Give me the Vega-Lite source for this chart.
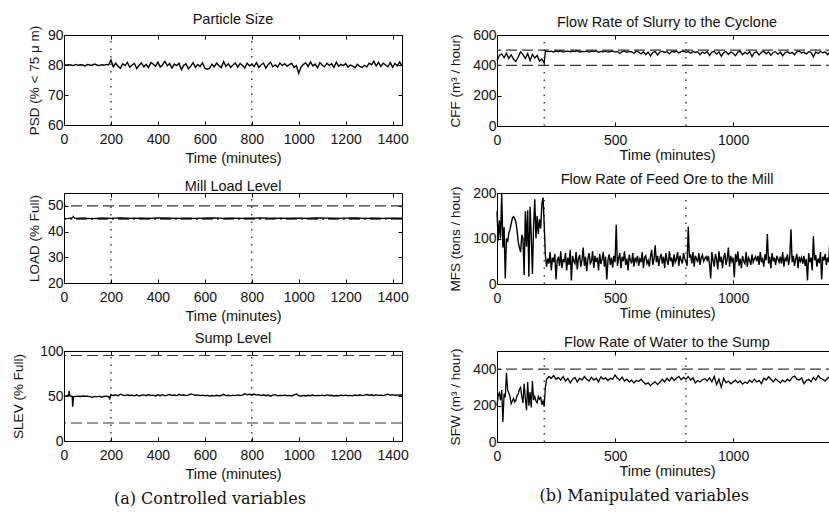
{
"$schema": "https://vega.github.io/schema/vega-lite/v6.json",
"background": "white",
"padding": {"left": 11, "top": 11, "right": 0, "bottom": 0},
"config": {
 "font": "Liberation Sans",
 "view": {"stroke": "black", "strokeWidth": 1},
 "axis": {"domain": false, "grid": false, "ticks": true, "tickSize": -4, "tickColor": "black", "tickWidth": 1, "labelFont": "Liberation Sans", "labelFontSize": 14, "labelColor": "#111", "labelPadding": 11, "labelFlush": false, "labelOverlap": false, "titleFont": "Liberation Sans", "titleFontSize": 14.5, "titleFontWeight": "normal", "titleColor": "#111"},
 "axisY": {"labelPadding": 5, "titleFontSize": 13.5, "titlePadding": 6},
 "title": {"font": "Liberation Sans", "fontSize": 14.5, "fontWeight": "normal", "color": "#111", "offset": -2}
},
"datasets": {
 "psd": [
{"t":0,"v":80.2},{"t":10,"v":79.9},{"t":20,"v":80.1},{"t":30,"v":80.0},{"t":40,"v":79.8},{"t":50,"v":80.2},{"t":60,"v":79.9},{"t":70,"v":80.1},{"t":80,"v":80.0},{"t":90,"v":79.7},
{"t":100,"v":80.2},{"t":110,"v":80.0},{"t":120,"v":79.9},{"t":130,"v":80.3},{"t":140,"v":80.0},{"t":150,"v":79.8},{"t":160,"v":80.1},{"t":170,"v":79.9},{"t":180,"v":80.2},{"t":190,"v":80.0},
{"t":200,"v":81.7},{"t":210,"v":79.4},{"t":220,"v":80.6},{"t":230,"v":79.6},{"t":240,"v":78.9},{"t":250,"v":80.4},{"t":260,"v":79.8},{"t":270,"v":80.9},{"t":280,"v":79.2},{"t":290,"v":80.0},
{"t":300,"v":80.5},{"t":310,"v":78.8},{"t":320,"v":79.9},{"t":330,"v":80.7},{"t":340,"v":79.4},{"t":350,"v":80.2},{"t":360,"v":79.1},{"t":370,"v":80.8},{"t":380,"v":80.3},{"t":390,"v":79.6},
{"t":400,"v":80.9},{"t":410,"v":79.3},{"t":420,"v":80.1},{"t":430,"v":81.2},{"t":440,"v":79.7},{"t":450,"v":80.5},{"t":460,"v":79.0},{"t":470,"v":80.3},{"t":480,"v":79.8},{"t":490,"v":80.6},
{"t":500,"v":78.5},{"t":510,"v":79.9},{"t":520,"v":80.4},{"t":530,"v":78.7},{"t":540,"v":79.6},{"t":550,"v":80.8},{"t":560,"v":79.2},{"t":570,"v":80.2},{"t":580,"v":79.5},{"t":590,"v":80.7},
{"t":600,"v":79.0},{"t":610,"v":78.6},{"t":620,"v":78.9},{"t":630,"v":80.3},{"t":640,"v":79.4},{"t":650,"v":80.6},{"t":660,"v":79.8},{"t":670,"v":79.1},{"t":680,"v":81.2},{"t":690,"v":79.6},
{"t":700,"v":80.4},{"t":710,"v":79.2},{"t":720,"v":80.0},{"t":730,"v":80.7},{"t":740,"v":79.3},{"t":750,"v":80.5},{"t":760,"v":79.9},{"t":770,"v":79.0},{"t":780,"v":80.6},{"t":790,"v":79.7},
{"t":800,"v":80.3},{"t":810,"v":79.5},{"t":820,"v":80.8},{"t":830,"v":79.2},{"t":840,"v":80.1},{"t":850,"v":80.6},{"t":860,"v":79.0},{"t":870,"v":80.2},{"t":880,"v":80.9},{"t":890,"v":79.4},
{"t":900,"v":80.0},{"t":910,"v":79.3},{"t":920,"v":80.7},{"t":930,"v":79.8},{"t":940,"v":80.4},{"t":950,"v":79.6},{"t":960,"v":80.1},{"t":970,"v":80.5},{"t":980,"v":79.2},{"t":990,"v":79.8},
{"t":1000,"v":77.2},{"t":1010,"v":79.3},{"t":1020,"v":80.2},{"t":1030,"v":80.7},{"t":1040,"v":79.5},{"t":1050,"v":81.0},{"t":1060,"v":79.7},{"t":1070,"v":80.3},{"t":1080,"v":79.1},{"t":1090,"v":80.8},
{"t":1100,"v":80.0},{"t":1110,"v":79.4},{"t":1120,"v":80.6},{"t":1130,"v":79.9},{"t":1140,"v":80.4},{"t":1150,"v":79.2},{"t":1160,"v":80.9},{"t":1170,"v":79.6},{"t":1180,"v":80.2},{"t":1190,"v":79.8},
{"t":1200,"v":80.5},{"t":1210,"v":79.3},{"t":1220,"v":80.0},{"t":1230,"v":79.6},{"t":1240,"v":79.1},{"t":1250,"v":80.2},{"t":1260,"v":79.5},{"t":1270,"v":79.2},{"t":1280,"v":79.9},{"t":1290,"v":79.4},
{"t":1300,"v":80.6},{"t":1310,"v":80.1},{"t":1320,"v":81.2},{"t":1330,"v":79.7},{"t":1340,"v":80.9},{"t":1350,"v":79.5},{"t":1360,"v":80.6},{"t":1370,"v":80.0},{"t":1380,"v":79.4},{"t":1390,"v":80.8},
{"t":1400,"v":79.2},{"t":1410,"v":80.5},{"t":1420,"v":79.7},{"t":1430,"v":81.0},{"t":1440,"v":79.6}
 ],
 "load": [
{"t":0,"v":44.9},{"t":20,"v":45.1},{"t":35,"v":45.3},{"t":40,"v":45.9},{"t":45,"v":45.2},{"t":60,"v":45.1},{"t":80,"v":45.2},{"t":120,"v":45.0},{"t":160,"v":45.2},{"t":200,"v":45.1},
{"t":240,"v":45.3},{"t":280,"v":45.1},{"t":320,"v":45.2},{"t":360,"v":45.1},{"t":400,"v":45.3},{"t":440,"v":45.2},{"t":480,"v":45.1},{"t":520,"v":45.2},{"t":560,"v":45.1},{"t":600,"v":45.2},
{"t":640,"v":45.3},{"t":680,"v":45.1},{"t":720,"v":45.2},{"t":760,"v":45.1},{"t":800,"v":45.2},{"t":840,"v":45.3},{"t":880,"v":45.1},{"t":920,"v":45.2},{"t":960,"v":45.1},{"t":1000,"v":45.2},
{"t":1040,"v":45.1},{"t":1080,"v":45.3},{"t":1120,"v":45.2},{"t":1160,"v":45.1},{"t":1200,"v":45.2},{"t":1240,"v":45.3},{"t":1280,"v":45.1},{"t":1320,"v":45.2},{"t":1360,"v":45.1},{"t":1400,"v":45.2},{"t":1440,"v":45.1}
 ],
 "slev": [
{"t":0,"v":49.5},{"t":10,"v":50.2},{"t":20,"v":51.0},{"t":22,"v":55.5},{"t":25,"v":50.0},{"t":35,"v":49.5},{"t":37,"v":38.0},{"t":40,"v":49.0},{"t":50,"v":49.6},{"t":60,"v":49.8},
{"t":70,"v":49.5},{"t":80,"v":50.0},{"t":90,"v":49.7},{"t":100,"v":49.9},{"t":110,"v":49.3},{"t":120,"v":48.5},{"t":130,"v":49.6},{"t":140,"v":49.0},{"t":150,"v":49.8},{"t":160,"v":48.7},
{"t":170,"v":49.5},{"t":180,"v":49.9},{"t":190,"v":49.2},{"t":195,"v":47.0},{"t":200,"v":51.5},{"t":210,"v":50.5},{"t":220,"v":51.2},{"t":230,"v":50.3},{"t":240,"v":52.0},{"t":250,"v":51.0},
{"t":260,"v":50.4},{"t":270,"v":51.5},{"t":280,"v":50.6},{"t":290,"v":51.0},{"t":300,"v":50.2},{"t":310,"v":51.4},{"t":320,"v":50.0},{"t":330,"v":50.8},{"t":340,"v":51.2},{"t":350,"v":50.3},
{"t":360,"v":51.6},{"t":370,"v":50.5},{"t":380,"v":51.0},{"t":390,"v":50.1},{"t":400,"v":51.3},{"t":410,"v":50.4},{"t":420,"v":51.5},{"t":430,"v":50.2},{"t":440,"v":50.9},{"t":450,"v":51.7},
{"t":460,"v":50.6},{"t":470,"v":51.1},{"t":480,"v":50.4},{"t":490,"v":51.8},{"t":500,"v":50.7},{"t":510,"v":51.3},{"t":520,"v":50.5},{"t":530,"v":51.0},{"t":540,"v":52.3},{"t":550,"v":51.6},
{"t":560,"v":50.8},{"t":570,"v":51.2},{"t":580,"v":50.4},{"t":590,"v":50.9},{"t":600,"v":50.3},{"t":610,"v":50.7},{"t":620,"v":50.1},{"t":630,"v":50.6},{"t":640,"v":50.2},{"t":650,"v":50.8},
{"t":660,"v":50.3},{"t":670,"v":50.5},{"t":680,"v":51.9},{"t":690,"v":50.4},{"t":700,"v":50.8},{"t":710,"v":50.2},{"t":720,"v":50.9},{"t":730,"v":50.4},{"t":740,"v":51.2},{"t":750,"v":50.6},
{"t":760,"v":51.0},{"t":770,"v":52.4},{"t":780,"v":51.3},{"t":790,"v":52.0},{"t":800,"v":51.1},{"t":810,"v":52.2},{"t":820,"v":51.0},{"t":830,"v":51.6},{"t":840,"v":50.5},{"t":850,"v":51.4},
{"t":860,"v":50.3},{"t":870,"v":51.1},{"t":880,"v":49.8},{"t":890,"v":50.9},{"t":900,"v":51.5},{"t":910,"v":50.2},{"t":920,"v":50.8},{"t":930,"v":50.4},{"t":940,"v":51.0},{"t":950,"v":50.3},
{"t":960,"v":50.7},{"t":970,"v":50.1},{"t":980,"v":51.3},{"t":990,"v":52.1},{"t":1000,"v":50.4},{"t":1010,"v":49.7},{"t":1020,"v":50.6},{"t":1030,"v":50.1},{"t":1040,"v":50.8},{"t":1050,"v":50.3},
{"t":1060,"v":51.0},{"t":1070,"v":50.2},{"t":1080,"v":50.7},{"t":1090,"v":50.4},{"t":1100,"v":50.9},{"t":1110,"v":50.2},{"t":1120,"v":51.2},{"t":1130,"v":50.5},{"t":1140,"v":50.8},{"t":1150,"v":50.1},
{"t":1160,"v":50.6},{"t":1170,"v":50.3},{"t":1180,"v":50.9},{"t":1190,"v":50.4},{"t":1200,"v":51.0},{"t":1210,"v":50.3},{"t":1220,"v":50.7},{"t":1230,"v":50.2},{"t":1240,"v":51.1},{"t":1250,"v":50.5},
{"t":1260,"v":51.3},{"t":1270,"v":50.4},{"t":1280,"v":50.9},{"t":1290,"v":51.6},{"t":1300,"v":50.8},{"t":1310,"v":51.4},{"t":1320,"v":50.6},{"t":1330,"v":51.2},{"t":1340,"v":50.7},{"t":1350,"v":51.0},
{"t":1360,"v":50.4},{"t":1370,"v":51.3},{"t":1380,"v":52.0},{"t":1390,"v":50.9},{"t":1400,"v":51.5},{"t":1410,"v":50.6},{"t":1420,"v":51.2},{"t":1430,"v":50.8},{"t":1440,"v":51.4}
 ],
 "cff": [
{"t":0,"v":430},{"t":10,"v":465},{"t":20,"v":475},{"t":30,"v":450},{"t":40,"v":480},{"t":50,"v":445},{"t":60,"v":470},{"t":70,"v":440},{"t":80,"v":425},{"t":90,"v":455},
{"t":100,"v":490},{"t":110,"v":470},{"t":120,"v":445},{"t":130,"v":478},{"t":140,"v":432},{"t":150,"v":472},{"t":160,"v":448},{"t":170,"v":465},{"t":180,"v":428},{"t":190,"v":442},
{"t":200,"v":415},{"t":205,"v":495},{"t":210,"v":492},{"t":220,"v":490},{"t":230,"v":494},{"t":240,"v":488},{"t":250,"v":493},{"t":260,"v":491},{"t":270,"v":495},{"t":280,"v":487},
{"t":290,"v":492},{"t":300,"v":494},{"t":310,"v":489},{"t":320,"v":493},{"t":330,"v":490},{"t":340,"v":495},{"t":350,"v":488},{"t":360,"v":492},{"t":370,"v":491},{"t":380,"v":494},
{"t":390,"v":487},{"t":400,"v":493},{"t":410,"v":490},{"t":420,"v":495},{"t":430,"v":486},{"t":440,"v":492},{"t":450,"v":489},{"t":460,"v":494},{"t":470,"v":488},{"t":480,"v":491},
{"t":490,"v":493},{"t":500,"v":487},{"t":510,"v":492},{"t":520,"v":478},{"t":530,"v":490},{"t":540,"v":494},{"t":550,"v":486},{"t":560,"v":492},{"t":570,"v":489},{"t":580,"v":480},
{"t":590,"v":493},{"t":600,"v":488},{"t":610,"v":475},{"t":620,"v":490},{"t":630,"v":470},{"t":640,"v":488},{"t":650,"v":462},{"t":660,"v":485},{"t":670,"v":491},{"t":680,"v":468},
{"t":690,"v":488},{"t":700,"v":493},{"t":710,"v":485},{"t":720,"v":490},{"t":730,"v":476},{"t":740,"v":492},{"t":750,"v":488},{"t":760,"v":494},{"t":770,"v":482},{"t":780,"v":490},
{"t":790,"v":493},{"t":800,"v":486},{"t":810,"v":491},{"t":820,"v":480},{"t":830,"v":492},{"t":840,"v":485},{"t":850,"v":490},{"t":860,"v":470},{"t":870,"v":488},{"t":880,"v":478},
{"t":890,"v":491},{"t":900,"v":465},{"t":910,"v":487},{"t":920,"v":492},{"t":930,"v":474},{"t":940,"v":489},{"t":950,"v":460},{"t":960,"v":484},{"t":970,"v":491},{"t":980,"v":472},
{"t":990,"v":488},{"t":1000,"v":480},{"t":1010,"v":463},{"t":1020,"v":487},{"t":1030,"v":492},{"t":1040,"v":470},{"t":1050,"v":486},{"t":1060,"v":475},{"t":1070,"v":490},{"t":1080,"v":458},
{"t":1090,"v":484},{"t":1100,"v":489},{"t":1110,"v":468},{"t":1120,"v":486},{"t":1130,"v":492},{"t":1140,"v":476},{"t":1150,"v":488},{"t":1160,"v":467},{"t":1170,"v":485},{"t":1180,"v":490},
{"t":1190,"v":472},{"t":1200,"v":487},{"t":1210,"v":462},{"t":1220,"v":483},{"t":1230,"v":490},{"t":1240,"v":478},{"t":1250,"v":486},{"t":1260,"v":470},{"t":1270,"v":489},{"t":1280,"v":493},
{"t":1290,"v":481},{"t":1300,"v":488},{"t":1310,"v":474},{"t":1320,"v":490},{"t":1330,"v":486},{"t":1340,"v":455},{"t":1350,"v":488},{"t":1360,"v":478},{"t":1370,"v":491},{"t":1380,"v":483},
{"t":1390,"v":489},{"t":1400,"v":470},{"t":1410,"v":490},{"t":1420,"v":485},{"t":1430,"v":492},{"t":1440,"v":488}
 ],
 "mfs": [
{"t":0,"v":160},{"t":5,"v":95},{"t":10,"v":140},{"t":15,"v":100},{"t":20,"v":200},{"t":25,"v":80},{"t":30,"v":125},{"t":35,"v":12},{"t":40,"v":100},{"t":45,"v":92},
{"t":50,"v":112},{"t":55,"v":120},{"t":60,"v":132},{"t":65,"v":145},{"t":70,"v":148},{"t":75,"v":144},{"t":80,"v":136},{"t":85,"v":118},{"t":90,"v":92},{"t":95,"v":80},
{"t":100,"v":70},{"t":105,"v":108},{"t":110,"v":100},{"t":115,"v":20},{"t":120,"v":160},{"t":125,"v":82},{"t":130,"v":162},{"t":135,"v":16},{"t":140,"v":170},{"t":145,"v":108},
{"t":150,"v":22},{"t":155,"v":128},{"t":160,"v":186},{"t":165,"v":100},{"t":170,"v":150},{"t":175,"v":110},{"t":180,"v":142},{"t":185,"v":122},{"t":190,"v":176},{"t":195,"v":190},
{"t":200,"v":130},{"t":205,"v":62},{"t":210,"v":38},{"t":215,"v":56},{"t":220,"v":45},{"t":225,"v":70},{"t":230,"v":30},{"t":235,"v":58},{"t":240,"v":48},{"t":245,"v":66},
{"t":250,"v":10},{"t":255,"v":52},{"t":260,"v":60},{"t":265,"v":40},{"t":270,"v":72},{"t":275,"v":35},{"t":280,"v":55},{"t":285,"v":48},{"t":290,"v":68},{"t":295,"v":30},
{"t":300,"v":58},{"t":305,"v":42},{"t":310,"v":75},{"t":315,"v":8},{"t":320,"v":62},{"t":325,"v":50},{"t":330,"v":45},{"t":335,"v":70},{"t":340,"v":32},{"t":345,"v":56},
{"t":350,"v":64},{"t":355,"v":38},{"t":360,"v":52},{"t":365,"v":80},{"t":370,"v":40},{"t":375,"v":60},{"t":380,"v":28},{"t":385,"v":55},{"t":390,"v":68},{"t":395,"v":45},
{"t":400,"v":50},{"t":405,"v":72},{"t":410,"v":35},{"t":415,"v":62},{"t":420,"v":48},{"t":425,"v":58},{"t":430,"v":30},{"t":435,"v":66},{"t":440,"v":44},{"t":445,"v":55},
{"t":450,"v":70},{"t":455,"v":38},{"t":460,"v":60},{"t":465,"v":10},{"t":470,"v":52},{"t":475,"v":65},{"t":480,"v":42},{"t":485,"v":58},{"t":490,"v":36},{"t":495,"v":62},
{"t":500,"v":48},{"t":505,"v":130},{"t":510,"v":40},{"t":515,"v":55},{"t":520,"v":68},{"t":525,"v":35},{"t":530,"v":60},{"t":535,"v":50},{"t":540,"v":72},{"t":545,"v":42},
{"t":550,"v":56},{"t":555,"v":30},{"t":560,"v":64},{"t":565,"v":52},{"t":570,"v":45},{"t":575,"v":68},{"t":580,"v":38},{"t":585,"v":58},{"t":590,"v":50},{"t":595,"v":62},
{"t":600,"v":40},{"t":605,"v":55},{"t":610,"v":48},{"t":615,"v":70},{"t":620,"v":35},{"t":625,"v":58},{"t":630,"v":62},{"t":635,"v":45},{"t":640,"v":52},{"t":645,"v":38},
{"t":650,"v":60},{"t":655,"v":75},{"t":660,"v":42},{"t":665,"v":55},{"t":670,"v":85},{"t":675,"v":48},{"t":680,"v":62},{"t":685,"v":40},{"t":690,"v":58},{"t":695,"v":66},
{"t":700,"v":45},{"t":705,"v":60},{"t":710,"v":35},{"t":715,"v":68},{"t":720,"v":52},{"t":725,"v":42},{"t":730,"v":72},{"t":735,"v":50},{"t":740,"v":58},{"t":745,"v":38},
{"t":750,"v":65},{"t":755,"v":48},{"t":760,"v":55},{"t":765,"v":70},{"t":770,"v":40},{"t":775,"v":62},{"t":780,"v":52},{"t":785,"v":45},{"t":790,"v":68},{"t":795,"v":55},
{"t":800,"v":50},{"t":805,"v":40},{"t":810,"v":126},{"t":815,"v":58},{"t":820,"v":65},{"t":825,"v":45},{"t":830,"v":70},{"t":835,"v":38},{"t":840,"v":62},{"t":845,"v":55},
{"t":850,"v":48},{"t":855,"v":68},{"t":860,"v":42},{"t":865,"v":58},{"t":870,"v":64},{"t":875,"v":50},{"t":880,"v":56},{"t":885,"v":60},{"t":890,"v":52},{"t":895,"v":62},
{"t":900,"v":45},{"t":905,"v":12},{"t":910,"v":70},{"t":915,"v":52},{"t":920,"v":38},{"t":925,"v":66},{"t":930,"v":55},{"t":935,"v":32},{"t":940,"v":72},{"t":945,"v":48},
{"t":950,"v":60},{"t":955,"v":35},{"t":960,"v":58},{"t":965,"v":68},{"t":970,"v":42},{"t":975,"v":55},{"t":980,"v":80},{"t":985,"v":38},{"t":990,"v":62},{"t":995,"v":50},
{"t":1000,"v":58},{"t":1005,"v":15},{"t":1010,"v":66},{"t":1015,"v":48},{"t":1020,"v":72},{"t":1025,"v":40},{"t":1030,"v":56},{"t":1035,"v":35},{"t":1040,"v":62},{"t":1045,"v":50},
{"t":1050,"v":45},{"t":1055,"v":70},{"t":1060,"v":38},{"t":1065,"v":58},{"t":1070,"v":52},{"t":1075,"v":42},{"t":1080,"v":65},{"t":1085,"v":48},{"t":1090,"v":55},{"t":1095,"v":60},
{"t":1100,"v":50},{"t":1105,"v":62},{"t":1110,"v":42},{"t":1115,"v":70},{"t":1120,"v":48},{"t":1125,"v":55},{"t":1130,"v":38},{"t":1135,"v":65},{"t":1140,"v":52},{"t":1145,"v":110},
{"t":1150,"v":45},{"t":1155,"v":60},{"t":1160,"v":35},{"t":1165,"v":68},{"t":1170,"v":50},{"t":1175,"v":58},{"t":1180,"v":42},{"t":1185,"v":62},{"t":1190,"v":55},{"t":1195,"v":48},
{"t":1200,"v":60},{"t":1205,"v":45},{"t":1210,"v":70},{"t":1215,"v":38},{"t":1220,"v":56},{"t":1225,"v":52},{"t":1230,"v":65},{"t":1235,"v":42},{"t":1240,"v":58},{"t":1245,"v":120},
{"t":1250,"v":48},{"t":1255,"v":62},{"t":1260,"v":40},{"t":1265,"v":55},{"t":1270,"v":66},{"t":1275,"v":35},{"t":1280,"v":60},{"t":1285,"v":50},{"t":1290,"v":58},{"t":1295,"v":45},
{"t":1300,"v":62},{"t":1305,"v":40},{"t":1310,"v":55},{"t":1315,"v":8},{"t":1320,"v":68},{"t":1325,"v":48},{"t":1330,"v":58},{"t":1335,"v":30},{"t":1340,"v":105},{"t":1345,"v":52},
{"t":1350,"v":64},{"t":1355,"v":38},{"t":1360,"v":56},{"t":1365,"v":46},{"t":1370,"v":70},{"t":1375,"v":10},{"t":1380,"v":60},{"t":1385,"v":52},{"t":1390,"v":66},{"t":1395,"v":42},
{"t":1400,"v":58},{"t":1405,"v":48},{"t":1410,"v":100},{"t":1415,"v":40},{"t":1420,"v":62},{"t":1425,"v":55},{"t":1430,"v":70},{"t":1435,"v":38},{"t":1440,"v":60}
 ],
 "sfw": [
{"t":0,"v":200},{"t":5,"v":255},{"t":10,"v":270},{"t":15,"v":230},{"t":20,"v":285},{"t":25,"v":110},{"t":30,"v":265},{"t":35,"v":245},{"t":40,"v":380},{"t":45,"v":285},
{"t":50,"v":270},{"t":55,"v":250},{"t":60,"v":210},{"t":65,"v":225},{"t":70,"v":240},{"t":75,"v":220},{"t":80,"v":230},{"t":85,"v":255},{"t":90,"v":265},{"t":95,"v":290},
{"t":100,"v":300},{"t":105,"v":250},{"t":110,"v":215},{"t":115,"v":320},{"t":120,"v":240},{"t":125,"v":175},{"t":130,"v":330},{"t":135,"v":200},{"t":140,"v":275},{"t":145,"v":190},
{"t":150,"v":335},{"t":155,"v":230},{"t":160,"v":250},{"t":165,"v":225},{"t":170,"v":215},{"t":175,"v":250},{"t":180,"v":235},{"t":185,"v":245},{"t":190,"v":205},{"t":195,"v":225},
{"t":200,"v":195},{"t":205,"v":300},{"t":210,"v":345},{"t":220,"v":360},{"t":230,"v":350},{"t":240,"v":365},{"t":250,"v":345},{"t":260,"v":355},{"t":270,"v":340},{"t":280,"v":360},
{"t":290,"v":335},{"t":300,"v":350},{"t":310,"v":325},{"t":320,"v":345},{"t":330,"v":355},{"t":340,"v":330},{"t":350,"v":350},{"t":360,"v":340},{"t":370,"v":360},{"t":380,"v":345},
{"t":390,"v":335},{"t":400,"v":355},{"t":410,"v":340},{"t":420,"v":350},{"t":430,"v":330},{"t":440,"v":358},{"t":450,"v":345},{"t":460,"v":352},{"t":470,"v":338},{"t":480,"v":350},
{"t":490,"v":345},{"t":500,"v":368},{"t":510,"v":350},{"t":520,"v":340},{"t":530,"v":356},{"t":540,"v":335},{"t":550,"v":345},{"t":560,"v":330},{"t":570,"v":340},{"t":580,"v":325},
{"t":590,"v":338},{"t":600,"v":332},{"t":610,"v":345},{"t":620,"v":330},{"t":630,"v":318},{"t":640,"v":325},{"t":650,"v":310},{"t":660,"v":322},{"t":670,"v":330},{"t":680,"v":315},
{"t":690,"v":328},{"t":700,"v":345},{"t":710,"v":330},{"t":720,"v":350},{"t":730,"v":335},{"t":740,"v":355},{"t":750,"v":338},{"t":760,"v":350},{"t":770,"v":360},{"t":780,"v":342},
{"t":790,"v":355},{"t":800,"v":345},{"t":810,"v":360},{"t":820,"v":340},{"t":830,"v":352},{"t":840,"v":325},{"t":850,"v":338},{"t":860,"v":330},{"t":870,"v":342},{"t":880,"v":348},
{"t":890,"v":335},{"t":900,"v":352},{"t":910,"v":330},{"t":920,"v":360},{"t":930,"v":315},{"t":940,"v":345},{"t":950,"v":300},{"t":960,"v":350},{"t":970,"v":325},{"t":980,"v":335},
{"t":990,"v":320},{"t":1000,"v":330},{"t":1010,"v":340},{"t":1020,"v":325},{"t":1030,"v":335},{"t":1040,"v":318},{"t":1050,"v":330},{"t":1060,"v":322},{"t":1070,"v":340},{"t":1080,"v":328},
{"t":1090,"v":345},{"t":1100,"v":330},{"t":1110,"v":338},{"t":1120,"v":320},{"t":1130,"v":350},{"t":1140,"v":340},{"t":1150,"v":358},{"t":1160,"v":345},{"t":1170,"v":330},{"t":1180,"v":348},
{"t":1190,"v":335},{"t":1200,"v":325},{"t":1210,"v":340},{"t":1220,"v":330},{"t":1230,"v":345},{"t":1240,"v":335},{"t":1250,"v":355},{"t":1260,"v":362},{"t":1270,"v":345},{"t":1280,"v":340},
{"t":1290,"v":352},{"t":1300,"v":320},{"t":1310,"v":338},{"t":1320,"v":345},{"t":1330,"v":330},{"t":1340,"v":355},{"t":1350,"v":340},{"t":1360,"v":365},{"t":1370,"v":350},{"t":1380,"v":345},
{"t":1390,"v":335},{"t":1400,"v":350},{"t":1410,"v":360},{"t":1420,"v":345},{"t":1430,"v":370},{"t":1440,"v":355}
 ]
},
"hconcat": [
 {
  "spacing": 68, "bounds": "flush",
  "title": {"text": "(a) Controlled variables", "orient": "bottom", "anchor": "middle", "frame": "bounds", "font": "DejaVu Serif", "fontSize": 16, "fontWeight": "normal", "color": "#111", "offset": 10},
  "vconcat": [
   {"width": 338, "height": 90, "title": {"text": "Particle Size"},
    "layer": [
     {"data": {"values": [{"t": 200}, {"t": 800}]}, "mark": {"type": "rule", "color": "#222", "strokeDash": [1.5, 6], "strokeWidth": 1.3},
      "encoding": {"x": {"field": "t", "type": "quantitative", "axis": {"orient": "top", "labels": false, "title": null, "values": [0,200,400,600,800,1000,1200,1400]}},
                   "y": {"datum": 60, "type": "quantitative", "axis": {"orient": "right", "labels": false, "title": null, "values": [60,70,80,90]}}, "y2": {"datum": 90}}},
     {"data": {"name": "psd"}, "mark": {"type": "line", "color": "black", "strokeWidth": 1.4},
      "encoding": {"x": {"field": "t", "type": "quantitative", "scale": {"domain": [0, 1440], "nice": false, "zero": false}, "axis": {"orient": "bottom", "format": "d", "values": [0,200,400,600,800,1000,1200,1400], "title": "Time (minutes)", "titlePadding": 5}},
                   "y": {"field": "v", "type": "quantitative", "scale": {"domain": [60, 90], "nice": false, "zero": false}, "axis": {"orient": "left", "values": [60,70,80,90], "title": "PSD (% < 75 μ m)"}}}}
    ],
    "resolve": {"axis": {"x": "independent", "y": "independent"}}},
   {"width": 338, "height": 90, "title": {"text": "Mill Load Level"},
    "layer": [
     {"data": {"values": [{"v": 50}]}, "mark": {"type": "rule", "color": "#333", "strokeDash": [11, 5], "strokeWidth": 1.2},
      "encoding": {"y": {"field": "v", "type": "quantitative", "axis": null}}},
     {"data": {"values": [{"v": 45}]}, "mark": {"type": "rule", "color": "#333", "strokeDash": [11, 4, 2, 4], "strokeWidth": 2},
      "encoding": {"y": {"field": "v", "type": "quantitative", "axis": null}}},
     {"data": {"values": [{"t": 200}, {"t": 800}]}, "mark": {"type": "rule", "color": "#222", "strokeDash": [1.5, 6], "strokeWidth": 1.3},
      "encoding": {"x": {"field": "t", "type": "quantitative", "axis": {"orient": "top", "labels": false, "title": null, "values": [0,200,400,600,800,1000,1200,1400]}},
                   "y": {"datum": 20, "type": "quantitative", "axis": {"orient": "right", "labels": false, "title": null, "values": [20,30,40,50]}}, "y2": {"datum": 55}}},
     {"data": {"name": "load"}, "mark": {"type": "line", "color": "black", "strokeWidth": 1.2},
      "encoding": {"x": {"field": "t", "type": "quantitative", "scale": {"domain": [0, 1440], "nice": false, "zero": false}, "axis": {"orient": "bottom", "format": "d", "values": [0,200,400,600,800,1000,1200,1400], "title": "Time (minutes)", "titlePadding": 5}},
                   "y": {"field": "v", "type": "quantitative", "scale": {"domain": [20, 55], "nice": false, "zero": false}, "axis": {"orient": "left", "values": [20,30,40,50], "title": "LOAD (% Full)"}}}}
    ],
    "resolve": {"axis": {"x": "independent", "y": "independent"}}},
   {"width": 338, "height": 90, "title": {"text": "Sump Level"},
    "layer": [
     {"data": {"values": [{"v": 95}, {"v": 20}]}, "mark": {"type": "rule", "color": "#333", "strokeDash": [11, 5], "strokeWidth": 1.2},
      "encoding": {"y": {"field": "v", "type": "quantitative", "axis": null}}},
     {"data": {"values": [{"t": 200}, {"t": 800}]}, "mark": {"type": "rule", "color": "#222", "strokeDash": [1.5, 6], "strokeWidth": 1.3},
      "encoding": {"x": {"field": "t", "type": "quantitative", "axis": {"orient": "top", "labels": false, "title": null, "values": [0,200,400,600,800,1000,1200,1400]}},
                   "y": {"datum": 0, "type": "quantitative", "axis": {"orient": "right", "labels": false, "title": null, "values": [0,50,100]}}, "y2": {"datum": 100}}},
     {"data": {"name": "slev"}, "mark": {"type": "line", "color": "black", "strokeWidth": 1.4},
      "encoding": {"x": {"field": "t", "type": "quantitative", "scale": {"domain": [0, 1440], "nice": false, "zero": false}, "axis": {"orient": "bottom", "format": "d", "values": [0,200,400,600,800,1000,1200,1400], "title": "Time (minutes)", "titlePadding": 5}},
                   "y": {"field": "v", "type": "quantitative", "scale": {"domain": [0, 100], "nice": false}, "axis": {"orient": "left", "values": [0,50,100], "title": "SLEV (% Full)", "titlePadding": 14}}}}
    ],
    "resolve": {"axis": {"x": "independent", "y": "independent"}}}
  ]
 },
 {
  "spacing": 67, "bounds": "flush",
  "title": {"text": "(b) Manipulated variables", "orient": "bottom", "anchor": "middle", "frame": "bounds", "font": "DejaVu Serif", "fontSize": 16, "fontWeight": "normal", "color": "#111", "offset": 10},
  "vconcat": [
   {"width": 340, "height": 91, "title": {"text": "Flow Rate of Slurry to the Cyclone"},
    "layer": [
     {"data": {"values": [{"v": 500}, {"v": 400}]}, "mark": {"type": "rule", "color": "#333", "strokeDash": [11, 5], "strokeWidth": 1.2},
      "encoding": {"y": {"field": "v", "type": "quantitative", "axis": null}}},
     {"data": {"values": [{"t": 200}, {"t": 800}]}, "mark": {"type": "rule", "color": "#222", "strokeDash": [1.5, 6], "strokeWidth": 1.3},
      "encoding": {"x": {"field": "t", "type": "quantitative", "axis": {"orient": "top", "labels": false, "title": null, "values": [0,500,1000]}},
                   "y": {"datum": 0, "type": "quantitative", "axis": {"orient": "right", "labels": false, "title": null, "values": [0,200,400,600]}}, "y2": {"datum": 600}}},
     {"data": {"name": "cff"}, "mark": {"type": "line", "color": "black", "strokeWidth": 1.3},
      "encoding": {"x": {"field": "t", "type": "quantitative", "scale": {"domain": [0, 1440], "nice": false, "zero": false}, "axis": {"orient": "bottom", "format": "d", "values": [0,500,1000], "title": "Time (minutes)", "titlePadding": 1}},
                   "y": {"field": "v", "type": "quantitative", "scale": {"domain": [0, 600], "nice": false}, "axis": {"orient": "left", "values": [0,200,400,600], "title": "CFF (m³ / hour)", "titlePadding": 10}}}}
    ],
    "resolve": {"axis": {"x": "independent", "y": "independent"}}},
   {"width": 340, "height": 91, "title": {"text": "Flow Rate of Feed Ore to the Mill"},
    "layer": [
     {"data": {"values": [{"t": 200}, {"t": 800}]}, "mark": {"type": "rule", "color": "#222", "strokeDash": [1.5, 6], "strokeWidth": 1.3},
      "encoding": {"x": {"field": "t", "type": "quantitative", "axis": {"orient": "top", "labels": false, "title": null, "values": [0,500,1000]}},
                   "y": {"datum": 0, "type": "quantitative", "axis": {"orient": "right", "labels": false, "title": null, "values": [0,100,200]}}, "y2": {"datum": 200}}},
     {"data": {"name": "mfs"}, "mark": {"type": "line", "color": "black", "strokeWidth": 1.4},
      "encoding": {"x": {"field": "t", "type": "quantitative", "scale": {"domain": [0, 1440], "nice": false, "zero": false}, "axis": {"orient": "bottom", "format": "d", "values": [0,500,1000], "title": "Time (minutes)", "titlePadding": 1}},
                   "y": {"field": "v", "type": "quantitative", "scale": {"domain": [0, 200], "nice": false}, "axis": {"orient": "left", "values": [0,100,200], "title": "MFS (tons / hour)", "titlePadding": 10}}}}
    ],
    "resolve": {"axis": {"x": "independent", "y": "independent"}}},
   {"width": 340, "height": 91, "title": {"text": "Flow Rate of Water to the Sump"},
    "layer": [
     {"data": {"values": [{"v": 400}]}, "mark": {"type": "rule", "color": "#333", "strokeDash": [11, 5], "strokeWidth": 1.2},
      "encoding": {"y": {"field": "v", "type": "quantitative", "axis": null}}},
     {"data": {"values": [{"t": 200}, {"t": 800}]}, "mark": {"type": "rule", "color": "#222", "strokeDash": [1.5, 6], "strokeWidth": 1.3},
      "encoding": {"x": {"field": "t", "type": "quantitative", "axis": {"orient": "top", "labels": false, "title": null, "values": [0,500,1000]}},
                   "y": {"datum": 0, "type": "quantitative", "axis": {"orient": "right", "labels": false, "title": null, "values": [0,200,400]}}, "y2": {"datum": 500}}},
     {"data": {"name": "sfw"}, "mark": {"type": "line", "color": "black", "strokeWidth": 1.3},
      "encoding": {"x": {"field": "t", "type": "quantitative", "scale": {"domain": [0, 1440], "nice": false, "zero": false}, "axis": {"orient": "bottom", "format": "d", "values": [0,500,1000], "title": "Time (minutes)", "titlePadding": 1}},
                   "y": {"field": "v", "type": "quantitative", "scale": {"domain": [0, 500], "nice": false}, "axis": {"orient": "left", "values": [0,200,400], "title": "SFW (m³ / hour)", "titlePadding": 10}}}}
    ],
    "resolve": {"axis": {"x": "independent", "y": "independent"}}}
  ]
 }
],
"spacing": 39
}
